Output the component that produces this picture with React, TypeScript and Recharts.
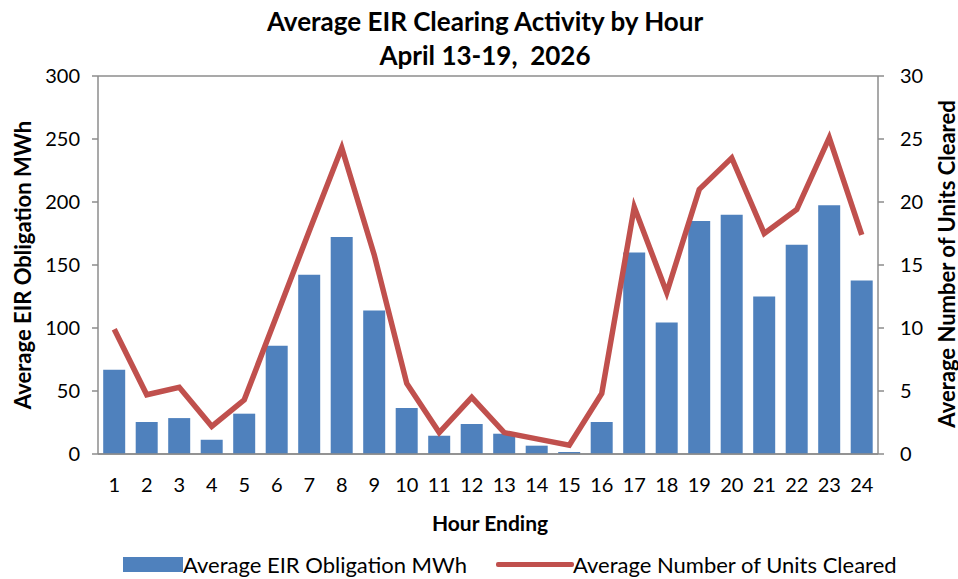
import React from "react";
import { ComposedChart, Bar, Line, XAxis, YAxis, CartesianGrid } from "recharts";

const hours = ["1","2","3","4","5","6","7","8","9","10","11","12","13","14","15","16","17","18","19","20","21","22","23","24"];
const obligationMWh = [66.8,25.4,28.5,11.3,32,85.9,142.2,172.3,113.9,36.5,14.5,23.8,16.1,6.6,1.6,25.4,159.9,104.4,185,189.8,125,166,197.4,137.7];
const unitsCleared = [9.9,4.7,5.3,2.2,4.3,11,17.7,24.3,15.8,5.6,1.7,4.5,1.7,1.2,0.7,4.8,19.6,12.8,21,23.5,17.5,19.4,25.1,17.4];
const leftTicks = [0,50,100,150,200,250,300];
const rightTicks = [0,5,10,15,20,25,30];

const data = hours.map((h, i) => ({ hour: h, mwh: obligationMWh[i], units: unitsCleared[i] }));

const FONT = "Lato, 'Open Sans', sans-serif";
const BLUE = "#4F81BD";
const RED = "#C0504D";
const GRID = "#8c8c8c";

const abs = (x: number, y: number, extra: React.CSSProperties = {}): React.CSSProperties => ({
  position: "absolute",
  left: x,
  top: y,
  transform: "translate(-50%, -50%)",
  whiteSpace: "nowrap",
  fontFamily: FONT,
  color: "#000",
  ...extra,
});

export default function App() {
  return (
    <div style={{ position: "absolute", left: 0, top: 0, width: 958, height: 579, background: "#fff", fontFamily: FONT }}>
      <ComposedChart
        width={958}
        height={579}
        data={data}
        margin={{ top: 76, right: 20, bottom: 95, left: 38 }}
        barCategoryGap="16%"
      >
        <CartesianGrid vertical={false} stroke={GRID} strokeWidth={1.5} />
        <XAxis
          dataKey="hour"
          axisLine={{ stroke: GRID, strokeWidth: 1.5 }}
          tickLine={false}
          tickSize={0}
          tickMargin={24}
          height={30}
          interval={0}
          tick={{ fontSize: 20, fill: "#000", fontFamily: FONT }}
        />
        <YAxis
          yAxisId="left"
          domain={[0, 300]}
          ticks={leftTicks}
          width={60}
          axisLine={{ stroke: GRID, strokeWidth: 1.5 }}
          tickLine={{ stroke: GRID, strokeWidth: 1.5 }}
          tickSize={6}
          tickMargin={12}
          tick={{ fontSize: 20, fill: "#000", fontFamily: FONT }}
        />
        <YAxis
          yAxisId="right"
          orientation="right"
          domain={[0, 30]}
          ticks={rightTicks}
          width={60}
          axisLine={{ stroke: GRID, strokeWidth: 1.5 }}
          tickLine={{ stroke: GRID, strokeWidth: 1.5 }}
          tickSize={6}
          tickMargin={16}
          tick={{ fontSize: 20, fill: "#000", fontFamily: FONT }}
        />
        <Bar yAxisId="left" dataKey="mwh" fill={BLUE} isAnimationActive={false} />
        <Line
          yAxisId="right"
          dataKey="units"
          stroke={RED}
          strokeWidth={5.5}
          dot={false}
          type="linear"
          isAnimationActive={false}
        />
      </ComposedChart>

      <div style={abs(485, 21, { fontSize: 26, fontWeight: 700 })}>Average EIR Clearing Activity by Hour</div>
      <div style={abs(485, 55, { fontSize: 26, fontWeight: 700 })}>April 13-19,&nbsp; 2026</div>

      <div style={abs(22, 265, { fontSize: 22, fontWeight: 700, transform: "translate(-50%, -50%) rotate(-90deg)" })}>
        Average EIR Obligation MWh
      </div>
      <div style={abs(946, 264, { fontSize: 22, fontWeight: 700, transform: "translate(-50%, -50%) rotate(-90deg)" })}>
        Average Number of Units Cleared
      </div>

      <div style={abs(490, 522, { fontSize: 21, fontWeight: 700 })}>Hour Ending</div>

      <div style={{ position: "absolute", left: 123, top: 557, width: 60, height: 15, background: BLUE }} />
      <div style={{ position: "absolute", left: 183, top: 564, transform: "translateY(-50%)", fontSize: 22, fontFamily: FONT, whiteSpace: "nowrap" }}>
        Average EIR Obligation MWh
      </div>
      <div style={{ position: "absolute", left: 496, top: 562, width: 78, height: 5, background: RED, borderRadius: 2 }} />
      <div style={{ position: "absolute", left: 573, top: 564, transform: "translateY(-50%)", fontSize: 22, fontFamily: FONT, whiteSpace: "nowrap" }}>
        Average Number of Units Cleared
      </div>
    </div>
  );
}
